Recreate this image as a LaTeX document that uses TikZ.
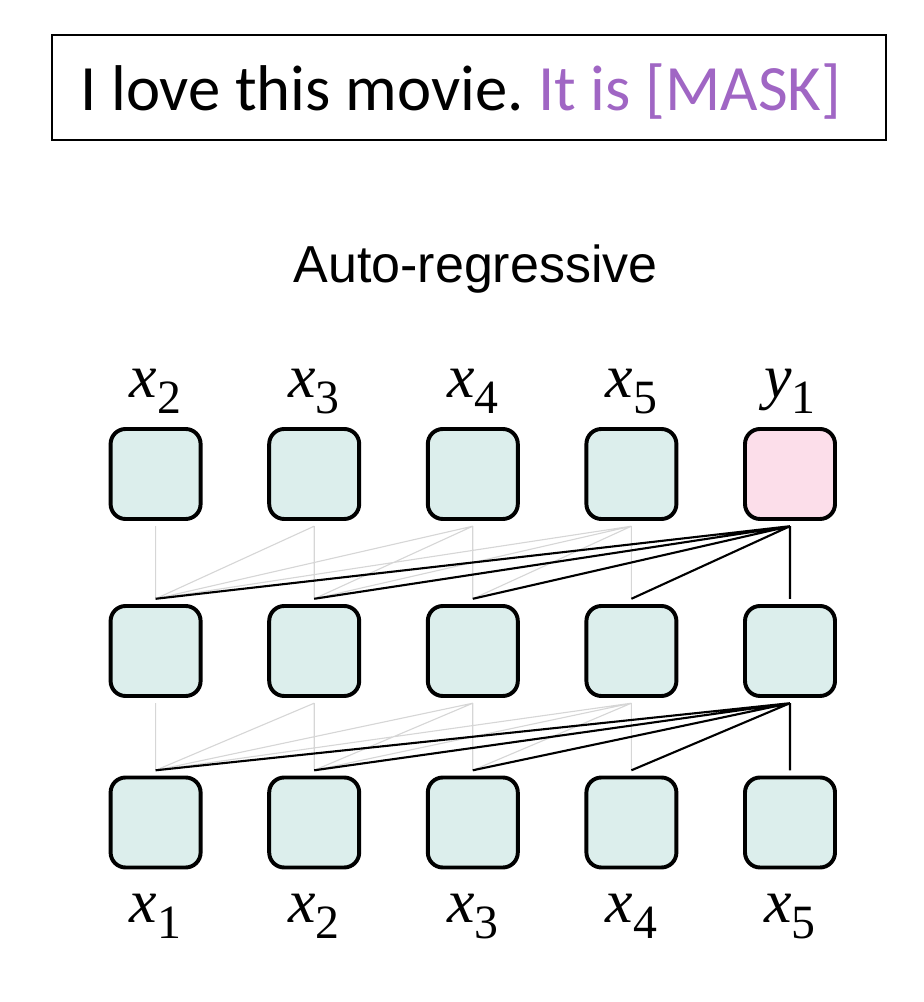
\documentclass[tikz,border=0pt]{standalone}
\usepackage{fontspec}
\setmainfont{Liberation Serif}
\newfontfamily\sentfont{Carlito}
\newfontfamily\headfont{Liberation Sans}
\usepackage{xcolor}
\usepackage{tikz}
\definecolor{cellfill}{RGB}{220,238,236}
\definecolor{maskfill}{RGB}{252,222,234}
\definecolor{maskpurple}{RGB}{160,102,196}
\definecolor{attngray}{RGB}{214,214,214}
\newcommand{\tok}[2]{\textit{#1}\raisebox{-11pt}{\fontsize{34}{34}\selectfont #2}}

\begin{document}
\begin{tikzpicture}[
    cell/.style={draw, line width=2.8pt, rounded corners=0.375cm, fill=cellfill,
        minimum size=2.25cm, outer ysep=0.18cm},
    lab/.style={font=\fontsize{44}{44}\selectfont, anchor=base, inner sep=0pt},
    seen/.style={attngray, line width=0.8pt},
    used/.style={black, line width=1.5pt}]
    \useasboundingbox (0,0) rectangle (23.1,25.05);

    % Input sentence
    \node[draw, line width=1.4pt, minimum width=20.85cm, minimum height=2.625cm] (prompt) at (11.725,22.8625) {};
    \node[font=\sentfont\fontsize{46}{46}\selectfont, anchor=base west, inner sep=0pt] (sentence) at (2.0,22.275)
        {\frenchspacing I love this movie. \textcolor{maskpurple}{It is [MASK]}};

    \node[font=\headfont\fontsize{37}{37}\selectfont, anchor=base] (title) at (11.89,17.975) {Auto-regressive};

    % Output row
    \node[cell] (t1) at (3.89,13.2) {};
    \node[cell] (t2) at (7.855,13.2) {};
    \node[cell] (t3) at (11.82,13.2) {};
    \node[cell] (t4) at (15.785,13.2) {};
    \node[cell, fill=maskfill] (t5) at (19.75,13.2) {};
    \node[lab] (lt1) at (3.89,15.1) {\tok{x}{2}};
    \node[lab] (lt2) at (7.855,15.1) {\tok{x}{3}};
    \node[lab] (lt3) at (11.82,15.1) {\tok{x}{4}};
    \node[lab] (lt4) at (15.785,15.1) {\tok{x}{5}};
    \node[lab] (lt5) at (19.75,15.1) {\tok{y}{1}};

    % Hidden row
    \node[cell] (m1) at (3.89,8.775) {};
    \node[cell] (m2) at (7.855,8.775) {};
    \node[cell] (m3) at (11.82,8.775) {};
    \node[cell] (m4) at (15.785,8.775) {};
    \node[cell] (m5) at (19.75,8.775) {};

    % Input row
    \node[cell] (b1) at (3.89,4.4875) {};
    \node[cell] (b2) at (7.855,4.4875) {};
    \node[cell] (b3) at (11.82,4.4875) {};
    \node[cell] (b4) at (15.785,4.4875) {};
    \node[cell] (b5) at (19.75,4.4875) {};
    \node[lab] (lb1) at (3.89,1.975) {\tok{x}{1}};
    \node[lab] (lb2) at (7.855,1.975) {\tok{x}{2}};
    \node[lab] (lb3) at (11.82,1.975) {\tok{x}{3}};
    \node[lab] (lb4) at (15.785,1.975) {\tok{x}{4}};
    \node[lab] (lb5) at (19.75,1.975) {\tok{x}{5}};

    % Causal connections, hidden -> output
    \draw[seen] (t1.south) -- (m1.north)
        (t2.south) -- (m1.north) (t2.south) -- (m2.north)
        (t3.south) -- (m1.north) (t3.south) -- (m2.north) (t3.south) -- (m3.north)
        (t4.south) -- (m1.north) (t4.south) -- (m2.north) (t4.south) -- (m3.north) (t4.south) -- (m4.north);
    \draw[used] (t5.south) -- (m1.north) (t5.south) -- (m2.north) (t5.south) -- (m3.north)
        (t5.south) -- (m4.north) (t5.south) -- (m5.north);

    % Causal connections, input -> hidden
    \draw[seen] (m1.south) -- (b1.north)
        (m2.south) -- (b1.north) (m2.south) -- (b2.north)
        (m3.south) -- (b1.north) (m3.south) -- (b2.north) (m3.south) -- (b3.north)
        (m4.south) -- (b1.north) (m4.south) -- (b2.north) (m4.south) -- (b3.north) (m4.south) -- (b4.north);
    \draw[used] (m5.south) -- (b1.north) (m5.south) -- (b2.north) (m5.south) -- (b3.north)
        (m5.south) -- (b4.north) (m5.south) -- (b5.north);
\end{tikzpicture}
\end{document}
